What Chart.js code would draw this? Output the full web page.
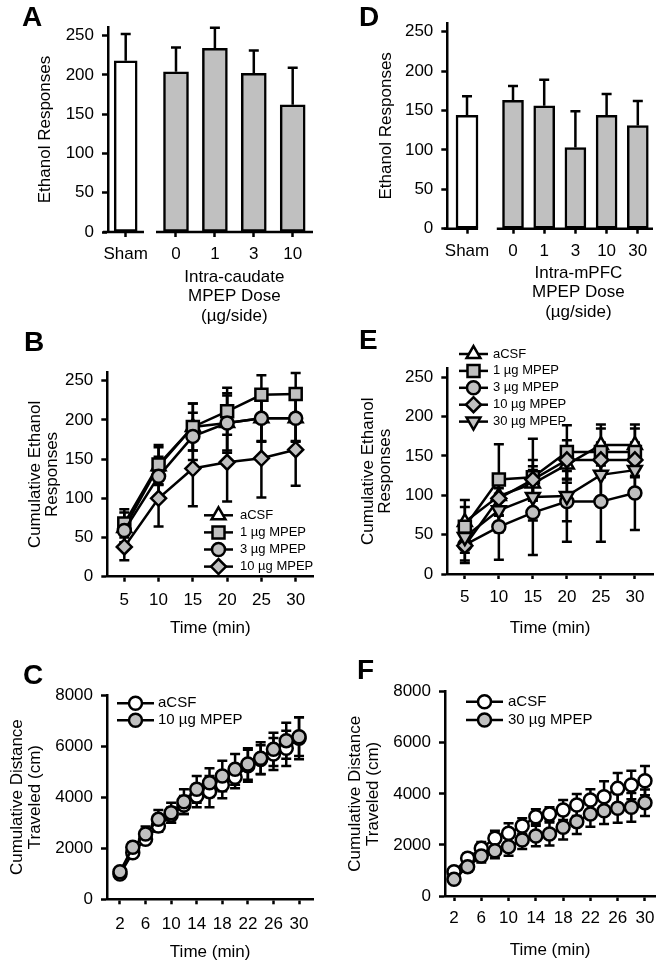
<!DOCTYPE html>
<html lang="en">
<head>
<meta charset="utf-8">
<title>MPEP and ethanol responses</title>
<script src="https://cdn.jsdelivr.net/npm/chart.js@4.4.1/dist/chart.umd.min.js"></script>
<style>
  html,body{margin:0;padding:0;background:#fff;}
  #fig{position:relative;width:664px;height:968px;overflow:hidden;font-family:"Liberation Sans",Arial,Helvetica,sans-serif;}
  #fig canvas{position:absolute;}
  .tag{position:absolute;font-weight:bold;font-size:28px;line-height:28px;color:#000;}
</style>
</head>
<body>
<div id="fig">
  <canvas id="cA" width="332" height="330" style="left:0;top:0"></canvas>
  <canvas id="cD" width="332" height="330" style="left:332px;top:0"></canvas>
  <canvas id="cB" width="332" height="310" style="left:0;top:330px"></canvas>
  <canvas id="cE" width="332" height="310" style="left:332px;top:330px"></canvas>
  <canvas id="cC" width="332" height="328" style="left:0;top:640px"></canvas>
  <canvas id="cF" width="332" height="328" style="left:332px;top:640px"></canvas>
  <div class="tag" style="left:22px;top:3px">A</div>
  <div class="tag" style="left:359px;top:3px">D</div>
  <div class="tag" style="left:24px;top:328px">B</div>
  <div class="tag" style="left:359px;top:326px">E</div>
  <div class="tag" style="left:23px;top:661px">C</div>
  <div class="tag" style="left:357px;top:656px">F</div>
</div>
<script>
/* ================= Data ================= */
const respTicks   = [0, 50, 100, 150, 200, 250];
const distTicks   = [0, 2000, 4000, 6000, 8000];
const timeTicksBE = [5, 10, 15, 20, 25, 30];
const timeTicksCF = [2, 6, 10, 14, 18, 22, 26, 30];

// A: intra-caudate
const doseA = ['Sham', '0', '1', '3', '10'];
const meanA = [218, 204, 234, 202, 162];
const semA  = [34, 31, 26, 29, 47];

// D: intra-mPFC
const doseD = ['Sham', '0', '1', '3', '10', '30'];
const meanD = [144, 163, 156, 103, 144, 131];
const semD  = [24, 18, 33, 46, 27, 31];

// B: cumulative ethanol responses, intra-caudate
const timeBE  = [5, 10, 15, 20, 25, 30];
const namesB  = ['aCSF', '1 µg MPEP', '3 µg MPEP', '10 µg MPEP'];
const bAcsf   = [62, 141, 191, 196, 202, 202];
const bAcsfSe = [20, 24, 30, 38, 30, 30];
const b1      = [68, 143, 191, 211, 232, 233];
const b1Se    = [18, 25, 30, 30, 25, 27];
const b3      = [59, 128, 179, 196, 202, 202];
const b3Se    = [15, 25, 30, 35, 29, 29];
const b10     = [38, 100, 138, 146, 151, 162];
const b10Se   = [17, 36, 48, 50, 50, 46];

// E: cumulative ethanol responses, intra-mPFC
const namesE  = ['aCSF', '1 µg MPEP', '3 µg MPEP', '10 µg MPEP', '30 µg MPEP'];
const eAcsf   = [66, 99, 115, 139, 164, 164];
const eAcsfSe = [28, 25, 22, 23, 26, 26];
const e1      = [60, 120, 123, 155, 155, 155];
const e1Se    = [25, 45, 49, 34, 30, 30];
const e3      = [37, 60, 78, 92, 92, 103];
const e3Se    = [20, 42, 54, 51, 51, 47];
const e10     = [36, 96, 120, 145, 145, 145];
const e10Se   = [22, 30, 25, 25, 22, 22];
const e30     = [47, 81, 98, 99, 126, 132];
const e30Se   = [20, 28, 30, 32, 28, 25];

// C / F: cumulative distance
const timeCF  = [2, 4, 6, 8, 10, 12, 14, 16, 18, 20, 22, 24, 26, 28, 30];
const namesC  = ['aCSF', '10 µg MPEP'];
const cAcsf   = [991, 1826, 2348, 2870, 3300, 3692, 4045, 4215, 4476, 4776, 5230, 5470, 5690, 5912, 6303];
const cAcsfSe = [100, 190, 182, 221, 299, 352, 444, 614, 523, 431, 627, 562, 627, 692, 823];
const c10     = [1082, 2035, 2557, 3131, 3392, 3823, 4306, 4567, 4828, 5089, 5298, 5520, 5872, 6212, 6368];
const c10Se   = [100, 200, 290, 366, 392, 483, 522, 561, 601, 601, 613, 626, 653, 705, 757];

const namesF  = ['aCSF', '30 µg MPEP'];
const fAcsf   = [953, 1475, 1866, 2258, 2454, 2741, 3106, 3211, 3368, 3563, 3759, 3889, 4215, 4346, 4516];
const fAcsfSe = [120, 200, 250, 300, 390, 300, 290, 260, 390, 430, 420, 600, 600, 560, 570];
const f30     = [652, 1149, 1566, 1775, 1931, 2193, 2349, 2428, 2689, 2911, 3211, 3341, 3433, 3472, 3655];
const f30Se   = [150, 200, 250, 300, 350, 350, 400, 450, 480, 480, 500, 520, 560, 560, 520];

/* ================= Helpers ================= */
const FONT = '"Liberation Sans", Arial, Helvetica, sans-serif';
const GRAY = '#c0c0c0';
const LW = 2.5;
Chart.defaults.font.family = FONT;
Chart.defaults.font.size = 17;
Chart.defaults.color = '#000';

function qs(id){ return document.getElementById(id); }
function fixedTicks(vals){ return s => { s.ticks = vals.map(v => ({ value: v })); }; }

function yAxis(o){
  return {
    type: 'linear', min: 0, max: o.max,
    afterBuildTicks: fixedTicks(o.ticks),
    afterFit: s => { s.width = o.width; },
    ticks: { color: '#000', padding: 8, callback: v => String(v) },
    grid: { display: true, drawOnChartArea: false, drawTicks: true, tickLength: 6, tickWidth: LW, tickColor: '#000' },
    border: { display: true, color: '#000', width: LW },
    title: { display: true, text: o.title, color: '#000', font: { size: 17, lineHeight: 1.05 }, padding: { top: o.titlePad, bottom: 0 } }
  };
}

function xAxis(o){
  return {
    type: 'linear', min: o.min, max: o.max, offset: false,
    afterBuildTicks: fixedTicks(o.ticks),
    afterFit: s => { s.height = o.height; },
    ticks: { color: '#000', padding: o.pad, maxRotation: 0, autoSkip: false,
             callback: (v, i) => o.labels ? o.labels[i] : String(v) },
    grid: { display: true, offset: false, drawOnChartArea: false, drawTicks: true, tickLength: 5, tickWidth: LW, tickColor: '#000' },
    border: { display: !o.broken, color: '#000', width: LW },
    title: o.title
      ? { display: true, text: o.title, color: '#000', font: { size: 17, lineHeight: 1.05 }, padding: { top: 0, bottom: o.titlePad } }
      : { display: false }
  };
}

function lineSet(label, xs, ys, se, m, n, i){
  return {
    label, errors: se,
    data: xs.map((x, k) => ({ x, y: ys[k] })),
    borderColor: '#000', borderWidth: LW, tension: 0, fill: false, clip: false,
    order: n - 1 - i,
    pointStyle: m.shape, pointRotation: m.rot || 0, pointRadius: m.r, pointHoverRadius: m.r,
    pointBackgroundColor: m.fill, pointBorderColor: '#000', pointBorderWidth: LW
  };
}

function mk(id, type, datasets, o){
  return new Chart(qs(id), {
    type, data: { datasets },
    options: {
      responsive: false, animation: false, devicePixelRatio: 1, events: [],
      layout: { padding: { top: o.top, right: o.right, bottom: 0, left: 0 } },
      scales: { x: o.x, y: o.y },
      plugins: Object.assign({ legend: { display: false }, tooltip: { enabled: false } }, o.plugins)
    }
  });
}

/* ================= Plugins ================= */
function drawErrors(chart, o){
  const { ctx } = chart, ys = chart.scales.y;
  ctx.save();
  ctx.strokeStyle = '#000'; ctx.lineWidth = LW;
  chart.data.datasets.forEach((ds, di) => {
    if(!ds.errors) return;
    chart.getDatasetMeta(di).data.forEach((el, i) => {
      const v = ds.data[i].y, e = ds.errors[i], x = el.x;
      const top = ys.getPixelForValue(v + e);
      const bot = ys.getPixelForValue(o.mode === 'up' ? v : v - e);
      ctx.beginPath();
      ctx.moveTo(x, bot); ctx.lineTo(x, top);
      ctx.moveTo(x - o.cap, top); ctx.lineTo(x + o.cap, top);
      if(o.mode !== 'up'){ ctx.moveTo(x - o.cap, bot); ctx.lineTo(x + o.cap, bot); }
      ctx.stroke();
    });
  });
  ctx.restore();
}

const errorBars = {
  id: 'errorBars',
  beforeDatasetsDraw(chart, _a, o){ if(o && o.mode === 'both') drawErrors(chart, o); },
  afterDatasetsDraw(chart, _a, o){ if(o && o.mode === 'up') drawErrors(chart, o); }
};

const brokenAxis = {
  id: 'brokenAxis',
  afterDatasetsDraw(chart, _a, o){
    if(!o || !o.segments) return;
    const { ctx } = chart, xs = chart.scales.x, y = chart.scales.y.getPixelForValue(0);
    ctx.save();
    ctx.strokeStyle = '#000'; ctx.lineWidth = LW;
    o.segments.forEach(seg => {
      ctx.beginPath();
      ctx.moveTo(xs.getPixelForValue(seg[0]), y);
      ctx.lineTo(xs.getPixelForValue(seg[1]), y);
      ctx.stroke();
    });
    ctx.restore();
  }
};

const groupTitle = {
  id: 'groupTitle',
  afterDraw(chart, _a, o){
    if(!o || !o.lines) return;
    const { ctx } = chart, xs = chart.scales.x;
    const cx = (xs.getPixelForValue(o.from) + xs.getPixelForValue(o.to)) / 2 + (o.dx || 0);
    const base = chart.scales.y.getPixelForValue(0);
    ctx.save();
    ctx.fillStyle = '#000'; ctx.font = `17px ${FONT}`;
    ctx.textAlign = 'center'; ctx.textBaseline = 'middle';
    o.lines.forEach((t, i) => ctx.fillText(t, cx, base + o.dy0 + i * o.lh));
    ctx.restore();
  }
};

const lineLegend = {
  id: 'lineLegend',
  afterDatasetsDraw(chart, _a, o){
    if(!o || o.x1 === undefined) return;
    const { ctx } = chart;
    ctx.save();
    chart.data.datasets.forEach((ds, i) => {
      const y = o.y0 + i * o.dy, mx = (o.x1 + o.x2) / 2;
      ctx.strokeStyle = '#000'; ctx.lineWidth = LW;
      ctx.beginPath(); ctx.moveTo(o.x1, y); ctx.lineTo(o.x2, y); ctx.stroke();
      ctx.fillStyle = ds.pointBackgroundColor;
      Chart.helpers.drawPoint(ctx, { pointStyle: ds.pointStyle, rotation: ds.pointRotation || 0,
        radius: ds.pointRadius, borderWidth: ds.pointBorderWidth }, mx, y);
      ctx.fillStyle = '#000'; ctx.font = `${o.size}px ${FONT}`;
      ctx.textAlign = 'left'; ctx.textBaseline = 'middle';
      ctx.fillText(ds.label, o.tx, y);
    });
    ctx.restore();
  }
};

Chart.register(errorBars, brokenAxis, groupTitle, lineLegend);

/* ================= Bar panels (A, D) ================= */
function barPanel(id, doses, means, sems, L){
  const pos = doses.map((d, i) => i === 0 ? -L.shamGap : i - 1);
  const last = doses.length - 2;
  const sets = [
    { data: [{ x: pos[0], y: means[0] }], errors: [sems[0]], backgroundColor: '#fff',
      borderColor: '#000', borderWidth: LW, borderSkipped: false, barThickness: L.shamW, grouped: false },
    { data: pos.slice(1).map((x, i) => ({ x, y: means[i + 1] })), errors: sems.slice(1), backgroundColor: GRAY,
      borderColor: '#000', borderWidth: LW, borderSkipped: false, barThickness: L.doseW, grouped: false }
  ];
  return mk(id, 'bar', sets, {
    top: L.top, right: L.right,
    x: xAxis({ min: L.xmin, max: L.xmax, ticks: pos, labels: doses, height: L.xh, pad: 7, broken: true }),
    y: yAxis({ max: 261, ticks: respTicks, width: L.yw, title: 'Ethanol Responses', titlePad: L.tp }),
    plugins: {
      errorBars: { mode: 'up', cap: 5 },
      brokenAxis: { segments: L.segments },
      groupTitle: { lines: [L.region, 'MPEP Dose', '(µg/side)'], from: 0, to: last, dx: L.dx, dy0: L.dy0, lh: 19.5 }
    }
  });
}

barPanel('cA', doseA, meanA, semA, {
  shamGap: 1.293, shamW: 23, doseW: 25, top: 27, right: 19, xmin: -1.748, xmax: 3.522, xh: 98,
  yw: 108, tp: 36, segments: [[-1.877, -0.823], [-0.514, 3.522]], region: 'Intra-caudate', dx: 0, dy0: 45
});
barPanel('cD', doseD, meanD, semD, {
  shamGap: 1.474, shamW: 22, doseW: 21, top: 23, right: 11, xmin: -2.106, xmax: 4.487, xh: 101.3,
  yw: 115.3, tp: 45.8, segments: [[-2.21, -1.12], [-0.52, 4.487]], region: 'Intra-mPFC', dx: 3, dy0: 44.5
});

/* ================= Time course panels (B, E) ================= */
const markBE = [
  { shape: 'triangle', fill: '#fff', r: 8 },
  { shape: 'rect', fill: GRAY, r: 8.5 },
  { shape: 'circle', fill: GRAY, r: 6.5 },
  { shape: 'rectRot', fill: GRAY, r: 7.5 },
  { shape: 'triangle', rot: 180, fill: GRAY, r: 8 }
];

const valsB = [[bAcsf, bAcsfSe], [b1, b1Se], [b3, b3Se], [b10, b10Se]];
mk('cB', 'line', valsB.map((v, i) => lineSet(namesB[i], timeBE, v[0], v[1], markBE[i], valsB.length, i)), {
  top: 42.1, right: 18.7,
  x: xAxis({ min: 2.52, max: 32.57, ticks: timeTicksBE, height: 63.3, pad: 8, title: 'Time (min)', titlePad: 3 }),
  y: yAxis({ max: 261, ticks: respTicks, width: 107.3, title: ['Cumulative Ethanol', 'Responses'], titlePad: 26 }),
  plugins: {
    errorBars: { mode: 'both', cap: 5 },
    lineLegend: { x1: 204, x2: 233, tx: 240, y0: 185.3, dy: 17.1, size: 13 }
  }
});

const valsE = [[eAcsf, eAcsfSe], [e1, e1Se], [e3, e3Se], [e10, e10Se], [e30, e30Se]];
mk('cE', 'line', valsE.map((v, i) => lineSet(namesE[i], timeBE, v[0], v[1], markBE[i], valsE.length, i)), {
  top: 38.6, right: 9,
  x: xAxis({ min: 2.42, max: 32.66, ticks: timeTicksBE, height: 66, pad: 8, title: 'Time (min)', titlePad: 3 }),
  y: yAxis({ max: 261, ticks: respTicks, width: 115.3, title: ['Cumulative Ethanol', 'Responses'], titlePad: 27 }),
  plugins: {
    errorBars: { mode: 'both', cap: 5 },
    lineLegend: { x1: 127, x2: 156, tx: 161, y0: 24, dy: 16.9, size: 13 }
  }
});

/* ================= Distance panels (C, F) ================= */
const markCF = [
  { shape: 'circle', fill: '#fff', r: 6.5 },
  { shape: 'circle', fill: GRAY, r: 6.5 }
];

const valsC = [[cAcsf, cAcsfSe], [c10, c10Se]];
mk('cC', 'line', valsC.map((v, i) => lineSet(namesC[i], timeCF, v[0], v[1], markCF[i], valsC.length, i)), {
  top: 55, right: 18.7,
  x: xAxis({ min: -0.03, max: 32.23, ticks: timeTicksCF, height: 68.7, pad: 10, title: 'Time (min)', titlePad: 7 }),
  y: yAxis({ max: 8000, ticks: distTicks, width: 107, title: ['Cumulative Distance', 'Traveled (cm)'], titlePad: 8.6 }),
  plugins: {
    errorBars: { mode: 'both', cap: 5 },
    lineLegend: { x1: 117, x2: 154, tx: 158, y0: 63.3, dy: 17, size: 15 }
  }
});

const valsF = [[fAcsf, fAcsfSe], [f30, f30Se]];
mk('cF', 'line', valsF.map((v, i) => lineSet(namesF[i], timeCF, v[0], v[1], markCF[i], valsF.length, i)), {
  top: 51.7, right: 9,
  x: xAxis({ min: 0.68, max: 31.47, ticks: timeTicksCF, height: 72, pad: 7, title: 'Time (min)', titlePad: 9 }),
  y: yAxis({ max: 8000, ticks: distTicks, width: 113, title: ['Cumulative Distance', 'Traveled (cm)'], titlePad: 14.8 }),
  plugins: {
    errorBars: { mode: 'both', cap: 5 },
    lineLegend: { x1: 134, x2: 171, tx: 176, y0: 61.7, dy: 18.3, size: 15 }
  }
});
</script>
</body>
</html>
